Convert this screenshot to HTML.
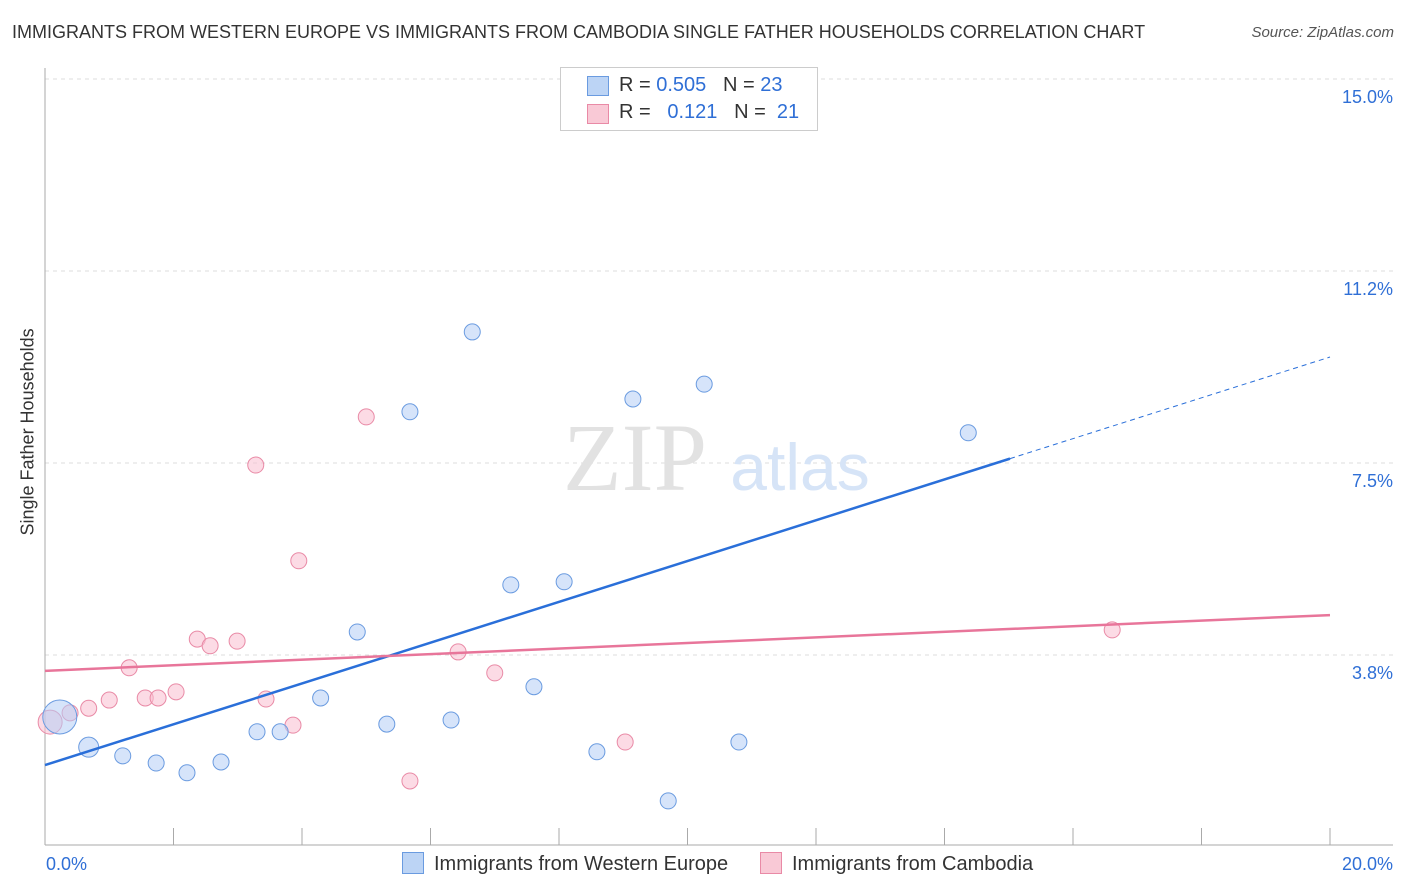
<!DOCTYPE html>
<html><head><meta charset="utf-8">
<style>
body{margin:0;background:#fff;font-family:"Liberation Sans",sans-serif;}
#wrap{position:relative;width:1406px;height:892px;overflow:hidden;}
.t{position:absolute;white-space:nowrap;}
</style></head><body>
<div id="wrap">
<div class="t" style="left:12px;top:22px;font-size:18px;color:#333;">IMMIGRANTS FROM WESTERN EUROPE VS IMMIGRANTS FROM CAMBODIA SINGLE FATHER HOUSEHOLDS CORRELATION CHART</div>
<div class="t" style="right:12px;top:24px;font-size:15px;color:#555;font-style:italic;">Source: ZipAtlas.com</div>
<div class="t" style="left:-52px;top:445px;font-size:18px;color:#333;transform:rotate(-90deg);transform-origin:center;width:160px;text-align:center;">Single Father Households</div>
<svg id="svg" width="1406" height="892" style="position:absolute;left:0;top:0"></svg>
<div class="t" style="left:560px;top:67px;width:256px;height:62px;border:1px solid #ccc;background:#fff;font-size:20px;color:#333;">
 <div style="position:absolute;left:26px;top:8px;width:20px;height:18px;background:#bcd4f5;border:1px solid #6a9be0"></div>
 <div style="position:absolute;left:58px;top:6px">R = <span style="color:#2f6fd6">0.505</span>&nbsp;&nbsp;&nbsp;N = <span style="color:#2f6fd6">23</span></div>
 <div style="position:absolute;left:26px;top:36px;width:20px;height:18px;background:#f9c9d6;border:1px solid #e98aa6"></div>
 <div style="position:absolute;left:58px;top:33px">R = &nbsp;&nbsp;<span style="color:#2f6fd6">0.121</span>&nbsp;&nbsp;&nbsp;N = &nbsp;<span style="color:#2f6fd6">21</span></div>
</div>
<div class="t" style="left:402px;top:852px;font-size:20px;color:#333;"><span style="display:inline-block;width:20px;height:20px;background:#bcd4f5;border:1px solid #6a9be0;vertical-align:-4px;margin-right:10px"></span>Immigrants from Western Europe</div>
<div class="t" style="left:760px;top:852px;font-size:20px;color:#333;"><span style="display:inline-block;width:20px;height:20px;background:#f9c9d6;border:1px solid #e98aa6;vertical-align:-4px;margin-right:10px"></span>Immigrants from Cambodia</div>
</div>
<script>
const yTicks=[3.75,7.5,11.25,15];
const yTickLabels=["3.8%","7.5%","11.2%","15.0%"];
const xTickLabels=["0.0%","20.0%"];
const blueX=[0.23,0.68,1.21,1.73,2.21,2.74,3.30,3.66,4.29,4.86,5.32,5.68,6.32,6.65,7.25,7.61,8.08,8.59,9.15,9.70,10.26,10.80,14.37];
const blueY=[2.54,1.95,1.78,1.64,1.45,1.66,2.25,2.25,2.91,4.20,2.40,8.50,2.48,10.06,5.12,3.13,5.18,1.86,8.75,0.90,9.04,2.05,8.09];
const blueR=[17,10,8,8,8,8,8,8,8,8,8,8,8,8,8,8,8,8,8,8,8,8,8];
const pinkX=[0.08,0.39,0.68,1.00,1.31,1.56,1.76,2.04,2.37,2.57,2.99,3.28,3.44,3.86,3.95,5.00,5.68,6.43,7.00,9.03,16.61];
const pinkY=[2.44,2.62,2.71,2.87,3.50,2.91,2.91,3.03,4.06,3.93,4.02,7.46,2.89,2.38,5.59,8.40,1.29,3.81,3.40,2.05,4.24];
const pinkR=[12,8,8,8,8,8,8,8,8,8,8,8,8,8,8,8,8,8,8,8,8];
const blueTrend=[1.60,9.57];
const pinkTrend=[3.44,4.53];
const blueSolidEnd=15.02;

const xs=v=>45+v*(1285/20);
const ys=v=>847-v*51.2;
const svg=document.getElementById('svg');
const NS='http://www.w3.org/2000/svg';
function mk(tag,a){const e=document.createElementNS(NS,tag);for(const k in a)e.setAttribute(k,a[k]);svg.appendChild(e);return e;}
let e;
yTicks.forEach((t,i)=>{
 e=mk('line',{x1:45,x2:1393,y1:ys(t),y2:ys(t),stroke:'#ddd','stroke-dasharray':'4,4'});
 
 
 e=mk('text',{x:1393,y:ys(t)+24,'text-anchor':'end','font-size':18,fill:'#2f6fd6','font-family':'Liberation Sans'});
 e.textContent=yTickLabels[i];
 
 
});
e=mk('line',{x1:45,x2:45,y1:68,y2:845,stroke:'#aaa'});


e=mk('line',{x1:45,x2:1393,y1:845,y2:845,stroke:'#aaa'});


for(let i=0;i<=10;i++){
 e=mk('line',{x1:xs(i*2),x2:xs(i*2),y1:828,y2:845,stroke:'#aaa'});
 
 
}
[[xs(0)+1,'start'],[xs(20)+63,'end']].forEach((p,i)=>{
 e=mk('text',{x:p[0],y:870,'text-anchor':p[1],'font-size':18,fill:'#2f6fd6','font-family':'Liberation Sans'});
 e.textContent=xTickLabels[i];
 
 
});
e=mk('text',{x:635,y:490,'font-size':96,fill:'#e2e2e2','font-family':'Liberation Serif','text-anchor':'middle'});
e.textContent='ZIP';


e=mk('text',{x:800,y:490,'font-size':66,fill:'#d6e4f7','font-family':'Liberation Sans','text-anchor':'middle'});
e.textContent='atlas';


pinkX.forEach((x,i)=>{
 e=mk('circle',{cx:xs(x),cy:ys(pinkY[i]),r:pinkR[i],fill:'rgba(249,190,208,0.55)',stroke:'#e98aa6','stroke-width':1});
 
 
});
blueX.forEach((x,i)=>{
 e=mk('circle',{cx:xs(x),cy:ys(blueY[i]),r:blueR[i],fill:'rgba(180,206,245,0.55)',stroke:'#6a9be0','stroke-width':1});
 
 
});
const bAt=x=>blueTrend[0]+(blueTrend[1]-blueTrend[0])*x/20;
e=mk('line',{x1:xs(0),y1:ys(blueTrend[0]),x2:xs(blueSolidEnd),y2:ys(bAt(blueSolidEnd)),stroke:'#2a6fd9','stroke-width':2.5});


e=mk('line',{x1:xs(blueSolidEnd),y1:ys(bAt(blueSolidEnd)),x2:xs(20),y2:ys(blueTrend[1]),stroke:'#2a6fd9','stroke-width':1,'stroke-dasharray':'5,4'});


e=mk('line',{x1:xs(0),y1:ys(pinkTrend[0]),x2:xs(20),y2:ys(pinkTrend[1]),stroke:'#e8759a','stroke-width':2.5});


</script>
</body></html>
